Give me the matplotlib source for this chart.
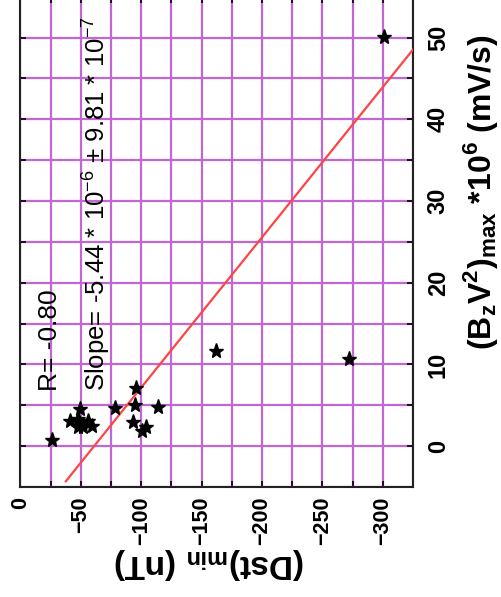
import numpy as np
import matplotlib.pyplot as plt
from matplotlib.ticker import MultipleLocator

plt.rcParams['font.family'] = ['Liberation Sans', 'DejaVu Sans']
plt.rcParams['mathtext.fontset'] = 'custom'
plt.rcParams['mathtext.rm'] = 'Liberation Sans'
plt.rcParams['mathtext.bf'] = 'Liberation Sans:bold'

# storm events: minimum Dst (nT) vs max Bz*V^2 (x10^6 mV/s)
dst_min = [-26, -41, -48, -49, -48, -52, -56, -59,
           -78, -96, -95, -114, -93, -104, -101,
           -162, -272, -301]
bzv2_max = [0.7, 3.1, 3.3, 4.5, 2.3, 2.3, 3.1, 2.5,
            4.7, 7.1, 5.0, 4.8, 2.9, 2.3, 1.9,
            11.6, 10.7, 50.1]

r_value = -0.80
slope = -5.44      # nT per (10^6 mV/s), i.e. -5.44e-6 nT per mV/s
slope_err = 9.81
intercept = -61.0
fit_range = [-4.3, 55]

fig = plt.figure(figsize=(5.01, 5.97), dpi=100)
ax = fig.add_axes([20.4 / 501, 110 / 597, (413 - 20.4) / 501, 490.3 / 597])

grid_col = '#C266D4'
ax.set_xlim(0, -325)
ax.set_ylim(-5, 55)
ax.xaxis.set_major_locator(MultipleLocator(50))
ax.xaxis.set_minor_locator(MultipleLocator(25))
ax.yaxis.set_major_locator(MultipleLocator(10))
ax.yaxis.set_minor_locator(MultipleLocator(5))
ax.grid(True, which='both', color=grid_col, lw=1.6)
ax.set_axisbelow(True)

bz_fit = np.array(fit_range)
ax.plot(intercept + slope * bz_fit, bz_fit, color='#FF4444', lw=1.6, zorder=3)
ax.plot(dst_min, bzv2_max, ls='none', marker='*', ms=11, color='black', zorder=4)

ax.yaxis.tick_right()
ax.tick_params(which='both', direction='in', length=4, width=1.2,
               top=True, bottom=True, left=True, right=True)
ax.tick_params(axis='x', which='major', labelsize=15.5, pad=7, labelrotation=90)
ax.tick_params(axis='y', which='major', labelsize=17, pad=10, labelrotation=90)
for lab in ax.get_xticklabels() + ax.get_yticklabels():
    lab.set_fontweight('bold')
for lab in ax.get_yticklabels():
    lab.set_ha('left')
    lab.set_va('center')
for sp in ax.spines.values():
    sp.set_linewidth(1.5)
    sp.set_color('#222222')

ax.text(-24.5, 6.8, 'R= %.2f' % r_value, rotation=90, ha='center', va='bottom', fontsize=19)
ax.text(-62.5, 6.8,
        'Slope= %.2f * 10$^{-6}$ \u00b1 %.2f * 10$^{-7}$' % (slope, slope_err),
        rotation=90, ha='center', va='bottom', fontsize=18.5)

fig.text(481 / 501, 1 - 192 / 597,
         r'(B$_\mathbf{z}$V$^\mathbf{2}$)$_\mathbf{max}$ *10$^\mathbf{6}$ (mV/s)',
         rotation=90, ha='center', va='center', fontsize=23, fontweight='bold')
fig.text(209 / 501, 1 - 563 / 597, r'(Dst)$_\mathbf{min}$ (nT)',
         rotation=180, ha='center', va='center', fontsize=24, fontweight='bold')

fig.savefig('out.png', dpi=100)
